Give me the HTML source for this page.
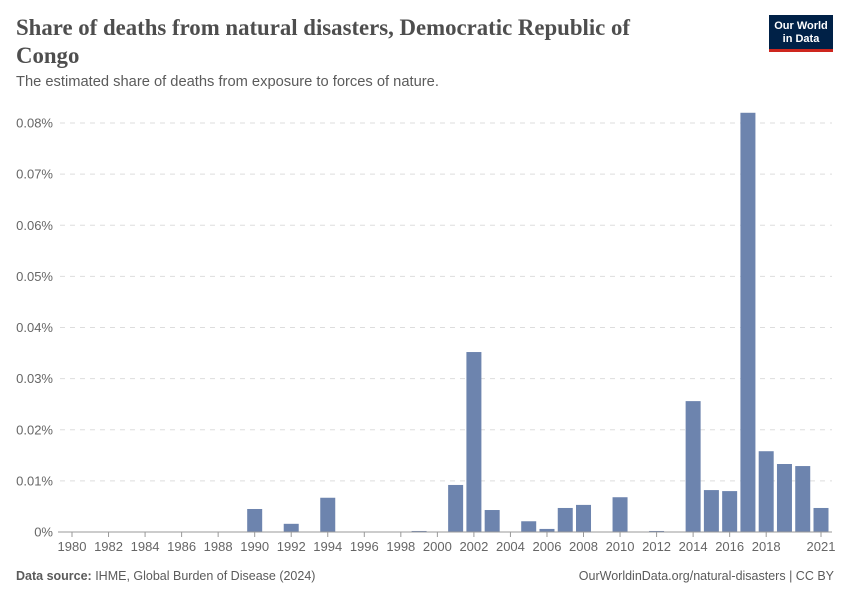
<!DOCTYPE html>
<html><head><meta charset="utf-8"><style>
body{margin:0;background:#fff;font-family:"Liberation Sans",sans-serif;}
#wrap{position:relative;width:850px;height:600px;overflow:hidden;}
.title{position:absolute;left:16px;top:14px;width:680px;font-family:"Liberation Serif",serif;font-size:22.8px;font-weight:bold;color:#4e4e4e;line-height:28px;}
.sub{position:absolute;left:16px;top:74px;font-size:14.7px;color:#5b5b5b;}
.logo{position:absolute;left:769px;top:15px;width:64px;height:37px;background:#002147;border-bottom:3px solid #ce261e;box-sizing:border-box;color:#fff;font-size:11px;text-align:center;line-height:13px;padding-top:5px;font-weight:bold;}
.foot{position:absolute;top:569px;font-size:12.5px;color:#5b5b5b;}
</style></head><body><div id="wrap">
<div class="title">Share of deaths from natural disasters, Democratic Republic of Congo</div>
<div class="sub">The estimated share of deaths from exposure to forces of nature.</div>
<div class="logo">Our World<br>in Data</div>
<svg id="plot" width="850" height="600" style="position:absolute;left:0;top:0"></svg>
<div class="foot" style="left:16px"><b>Data source:</b> IHME, Global Burden of Disease (2024)</div>
<div class="foot" style="right:16px">OurWorldinData.org/natural-disasters | CC BY</div>
</div>
<script>
const years=[1980,1981,1982,1983,1984,1985,1986,1987,1988,1989,1990,1991,1992,1993,1994,1995,1996,1997,1998,1999,2000,2001,2002,2003,2004,2005,2006,2007,2008,2009,2010,2011,2012,2013,2014,2015,2016,2017,2018,2019,2020,2021];
const values=[0,0,0,0,0,0,0,0,0,0,0.0045,0,0.0016,0,0.0067,0,0,0,0,0.0002,0,0.0092,0.0352,0.0043,0,0.0021,0.0006,0.0047,0.0053,0,0.0068,0,0.0002,0,0.0256,0.0082,0.0080,0.082,0.0158,0.0133,0.0129,0.0047];
const yTicks=[0,0.01,0.02,0.03,0.04,0.05,0.06,0.07,0.08];
const yTickLabels=["0%","0.01%","0.02%","0.03%","0.04%","0.05%","0.06%","0.07%","0.08%"];
const xTickYears=[1980,1982,1984,1986,1988,1990,1992,1994,1996,1998,2000,2002,2004,2006,2008,2010,2012,2014,2016,2018,2021];
const svg=document.getElementById('plot');const NS='http://www.w3.org/2000/svg';
const y=v=>532-v/0.08*409;
const x=yr=>72+(yr-1980)*(821-72)/41;
function mk(t,a,txt){const e=document.createElementNS(NS,t);for(const k in a)e.setAttribute(k,a[k]);if(txt!=null)e.textContent=txt;svg.appendChild(e);return e;}
yTicks.forEach((v,i)=>{
 if(i>0){const g=mk('line',{x1:60,x2:832,y1:y(v),y2:y(v),stroke:'#ddd','stroke-dasharray':'5,5'});
 
 }
 const t=mk('text',{x:53,y:y(v)+4.5,'text-anchor':'end','font-size':13,fill:'#666'},yTickLabels[i]);
 
 
});
years.forEach((yr,i)=>{
 if(values[i]<=0)return;
 const r=mk('rect',{x:x(yr)-7.5,y:y(values[i]),width:15,height:532-y(values[i]),fill:'#6d84ae'});
 
 
});
const ax=mk('line',{x1:58,x2:832,y1:532,y2:532,stroke:'#999'});


xTickYears.forEach(yr=>{
 const tk=mk('line',{x1:x(yr),x2:x(yr),y1:532,y2:537,stroke:'#999'});
 
 
 const t=mk('text',{x:x(yr),y:551,'text-anchor':'middle','font-size':13,fill:'#666'},String(yr));
 
 
});
</script></body></html>
